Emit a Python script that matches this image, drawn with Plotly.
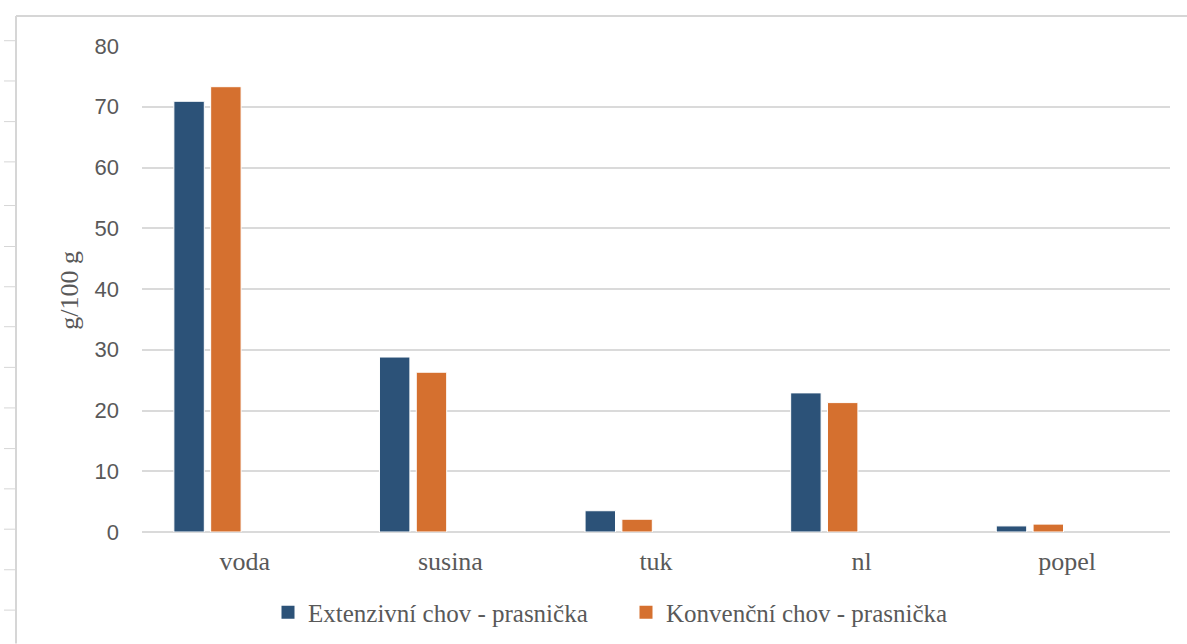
import plotly.graph_objects as go

categories = ["voda", "susina", "tuk", "nl", "popel"]
series_names = ["Extenzivní chov - prasnička", "Konvenční chov - prasnička"]
extenzivni = [70.9, 28.8, 3.5, 22.9, 1.0]
konvencni = [73.3, 26.3, 2.1, 21.3, 1.3]
y_ticks = [0, 10, 20, 30, 40, 50, 60, 70, 80]

W, H = 1187, 644
ML, MR, MT, MB = 142, 17, 46, 111.5
PW, PH = W - ML - MR, H - MT - MB


def px(x):
    return (x - ML) / PW


def py(y):
    return (H - MB - y) / PH


blue = "#2c5278"
orange = "#d5702f"
serif = "Liberation Serif"
sans = "Liberation Sans"
txt = "#595959"
grid = "#dadada"

fig = go.Figure()
fig.add_trace(go.Bar(x=categories, y=extenzivni, name=series_names[0], showlegend=False,
                     legendgroup="a",
                     marker=dict(color=blue, line=dict(color="#ffffff", width=1)),
                     width=0.148, offset=-0.345))
fig.add_trace(go.Bar(x=categories, y=konvencni, name=series_names[1], showlegend=False,
                     legendgroup="b",
                     marker=dict(color=orange, line=dict(color="#ffffff", width=1)),
                     width=0.148, offset=-0.166))
# legend entries (square keys like the original)
for name, col, grp in [(series_names[0], blue, "a"), (series_names[1], orange, "b")]:
    fig.add_trace(go.Scatter(x=[None], y=[None], mode="markers", name=name, legendgroup=grp,
                             marker=dict(symbol="square", size=13, color=col),
                             hoverinfo="skip"))

# decorative frame (spreadsheet edge)
shapes = [
    dict(type="line", xref="paper", yref="paper", x0=px(16), x1=px(1187), y0=py(16), y1=py(16),
         line=dict(color="#d6d6d6", width=2)),
    dict(type="line", xref="paper", yref="paper", x0=px(16), x1=px(16), y0=py(16), y1=py(644),
         line=dict(color="#d6d6d6", width=2)),
]
ruler = [40.7, 81, 121.7, 162, 205.7, 246.7, 287, 327, 367.7, 408.3, 449, 489.3, 529.7, 570.3, 610.7]
for r in ruler:
    shapes.append(dict(type="line", xref="paper", yref="paper", x0=px(4), x1=px(15), y0=py(r), y1=py(r),
                       line=dict(color="#d6d6d6", width=1)))

fig.update_layout(
    width=W, height=H,
    margin=dict(l=ML, r=MR, t=MT, b=MB, pad=0, autoexpand=False),
    paper_bgcolor="white", plot_bgcolor="white",
    barmode="group",
    showlegend=True,
    legend=dict(orientation="h", x=px(268), xanchor="left", y=py(613), yanchor="middle",
                font=dict(family=serif, size=25, color=txt), entrywidth=313,
                bgcolor="rgba(0,0,0,0)"),
    xaxis=dict(type="category", showgrid=False, showline=False, ticks="", automargin=False,
               tickfont=dict(family=serif, size=26, color=txt), ticklabelstandoff=11,
               range=[-0.5, 4.5]),
    yaxis=dict(range=[0, 80], tickvals=y_ticks, showgrid=True, gridcolor=grid, gridwidth=2,
               zeroline=True, zerolinecolor=grid, zerolinewidth=2, showline=False, ticks="",
               automargin=False,
               tickfont=dict(family=sans, size=22, color=txt), ticklabelstandoff=22),
    shapes=shapes,
    annotations=[dict(text="g/100 g", xref="paper", yref="paper", x=px(70), y=py(291),
                      showarrow=False, textangle=-90, xanchor="center", yanchor="middle",
                      font=dict(family=serif, size=26, color=txt))],
)

fig.write_html("out.html")
